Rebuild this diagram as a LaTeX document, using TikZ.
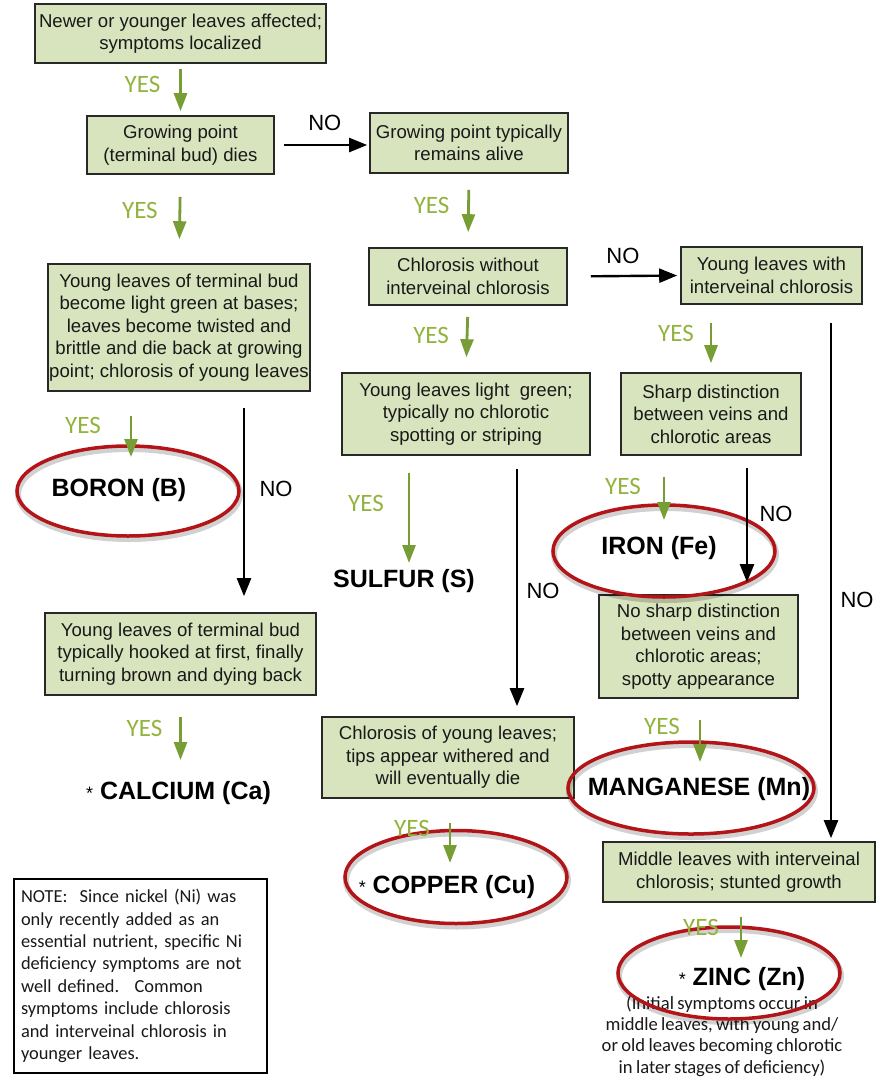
\documentclass[tikz,border=0pt]{standalone}
\usepackage{fontspec}
\setmainfont{Liberation Sans}
\newfontfamily\hum[WordSpace=0.8]{Carlito}
\usetikzlibrary{arrows.meta,shapes.geometric}
\definecolor{boxfill}{RGB}{215,228,189}
\definecolor{boxline}{RGB}{40,40,40}
\definecolor{arrgreen}{RGB}{118,158,52}
\definecolor{yesgreen}{RGB}{146,180,62}
\definecolor{ringred}{RGB}{178,20,24}
\definecolor{txt}{RGB}{25,25,25}
\begin{document}
\begin{tikzpicture}[x=1pt,y=-1pt,
  box/.style={draw=boxline, line width=1.6pt, fill=boxfill, inner sep=0pt, align=center, text=txt, font=\fontsize{18.6}{22.5}\selectfont},
  elem/.style={font=\fontsize{25}{28}\selectfont\bfseries, inner sep=0pt, text=black},
  ring/.style={ellipse, draw=ringred, line width=3.5pt, inner sep=0pt, preaction={draw=black, draw opacity=0.18, line width=6pt, transform canvas={xshift=1pt,yshift=-3pt}}},
  yesarrow/.style={draw=arrgreen, line width=2.8pt, -{Triangle[width=13pt,length=18pt]}},
  noarrow/.style={draw=black, line width=2.4pt, -{Triangle[width=14pt,length=18pt]}},
  yeslbl/.style={text=yesgreen, font=\hum\fontsize{25}{25}\selectfont, inner sep=0pt},
  nolbl/.style={text=black, font=\fontsize{22}{22}\selectfont, inner sep=0pt},
  notebox/.style={draw=black, line width=1.2pt, fill=white, text width=239pt, inner xsep=7pt, inner ysep=0pt, minimum height=194pt, align=left, text=txt, font=\hum\fontsize{18.4}{22.4}\selectfont},
  ]
\useasboundingbox (0,0) rectangle (883,1080);
\fill[white] (0,0) rectangle (883,1080);

% boxes
\node[box, minimum width=291pt, minimum height=59pt] (A) at (180.5,33.5) {Newer or younger leaves affected;\\symptoms localized};
\node[box, minimum width=187pt, minimum height=58pt] (B) at (180.5,145) {Growing point\\(terminal bud) dies};
\node[box, minimum width=198pt, minimum height=60pt] (C) at (469,143) {Growing point typically\\remains alive};
\node[box, minimum width=198pt, minimum height=57pt] (D) at (468,276.5) {Chlorosis without\\interveinal chlorosis};
\node[box, minimum width=181pt, minimum height=57pt] (E) at (771.5,275.5) {Young leaves with\\interveinal chlorosis};
\node[box, minimum width=262pt, minimum height=127pt] (F) at (179,327.5) {Young leaves of terminal bud\\become light green at bases;\\leaves become twisted and\\brittle and die back at growing\\point; chlorosis of young leaves};
\node[box, minimum width=271pt, minimum height=82pt] (G) at (180.5,654) {Young leaves of terminal bud\\typically hooked at first, finally\\turning brown and dying back};
\node[box, minimum width=248pt, minimum height=82pt] (H) at (466,414) {Young leaves light~ green;\\typically no chlorotic\\spotting or striping};
\node[box, minimum width=180pt, minimum height=82pt] (I) at (711,414) {Sharp distinction\\between veins and\\chlorotic areas};
\node[box, minimum width=199pt, minimum height=103pt] (K) at (698.5,646.5) {No sharp distinction\\between veins and\\chlorotic areas;\\spotty appearance};
\node[box, minimum width=252pt, minimum height=81pt] (J) at (448,757.5) {Chlorosis of young leaves;\\tips appear withered and\\will eventually die};
\node[box, minimum width=272pt, minimum height=60pt] (L) at (739,872) {Middle leaves with interveinal\\chlorosis; stunted growth};

\node[notebox] (N) at (140.5,976) {NOTE:~ Since nickel (Ni) was\\only recently added as an\\essential nutrient, specific Ni\\deficiency symptoms are not\\well defined.~ Common\\symptoms include chlorosis\\and interveinal chlorosis in\\younger leaves.};

% results
\node[elem] (Bo) at (119,490) {BORON (B)};
\node[elem] (S) at (404,581) {SULFUR (S)};
\node[elem] (Fe) at (659,548) {IRON (Fe)};
\node[elem] (Ca) at (178.5,793) {{\mdseries\fontsize{18}{18}\selectfont *}~CALCIUM (Ca)};
\node[elem] (Mn) at (699,789) {MANGANESE (Mn)};
\node[elem] (Cu) at (447,887) {{\mdseries\fontsize{18}{18}\selectfont *}~COPPER (Cu)};
\node[elem] (Zn) at (742,979) {{\mdseries\fontsize{18}{18}\selectfont *}~ZINC (Zn)};
\node[font=\hum\fontsize{18.6}{21.2}\selectfont, align=center, inner sep=0pt, text=txt] (ZnN) at (722,1036) {(Initial symptoms occur in\\middle leaves, with young and/\\or old leaves becoming chlorotic\\in later stages of deficiency)};

% rings
\node[ring, minimum width=222pt, minimum height=90pt] (BoR) at (128,491) {};
\node[ring, minimum width=222pt, minimum height=92pt] (FeR) at (664,551) {};
\node[ring, minimum width=246pt, minimum height=92pt] (MnR) at (691,788) {};
\node[ring, minimum width=222pt, minimum height=93pt] (CuR) at (456,877) {};
\node[ring, minimum width=222pt, minimum height=92pt] (ZnR) at (729,973) {};

% helper coordinates
\coordinate (e1) at ([xshift=59.5pt]E.south);
\coordinate (f1) at ([xshift=-48pt]F.south);
\coordinate (f2) at ([xshift=65pt]F.south);
\coordinate (h1) at ([xshift=-57pt]H.south);
\coordinate (h2) at ([xshift=51pt]H.south);
\coordinate (i1) at ([xshift=-47pt]I.south);
\coordinate (i2) at ([xshift=36pt]I.south);
\coordinate (k1) at ([xshift=1.5pt]K.south);
\coordinate (j1) at ([xshift=2pt]J.south);
\coordinate (l1) at ([xshift=2pt]L.south);

% connectors
\draw[yesarrow, shorten <=5pt, shorten >=4pt] (A.south) -- (B.north) node[yeslbl, pos=0.4, xshift=-38pt]{YES};
\draw[noarrow, shorten <=9pt, shorten >=2pt] (B.east) -- (C.west |- B.east) node[nolbl, pos=0.53, yshift=22pt]{NO};
\draw[yesarrow, shorten <=22pt, shorten >=24pt] (B.south) -- (F.north) node[yeslbl, pos=0.4, xshift=-40pt]{YES};
\draw[yesarrow, shorten <=16pt, shorten >=15pt] (C.south) -- (D.north) node[yeslbl, pos=0.43, xshift=-37pt]{YES};
\draw[noarrow, shorten <=23pt, shorten >=3pt] (D.east) -- (E.west) node[nolbl, pos=0.49, yshift=20pt]{NO};
\draw[yesarrow, shorten <=11pt, shorten >=15pt] (D.south) -- (H.north) node[yeslbl, pos=0.45, xshift=-36pt]{YES};
\draw[yesarrow, shorten <=18pt, shorten >=9pt] (E.south -| I.north) -- (I.north) node[yeslbl, pos=0.43, xshift=-35pt]{YES};
\draw[noarrow, shorten <=18pt, shorten >=3pt] (e1) -- (e1 |- L.north) node[nolbl, pos=0.55, xshift=26pt]{NO};
\draw[yesarrow, shorten <=24pt, shorten >=34pt] (f1) -- (f1 |- BoR.center) node[yeslbl, pos=0.34, xshift=-48pt]{YES};
\draw[noarrow, shorten <=16pt, shorten >=16pt] (f2) -- (f2 |- G.north) node[nolbl, pos=0.44, xshift=32pt]{NO};
\draw[yesarrow, shorten <=21pt, shorten >=33pt] (G.south) -- (G.south |- Ca.center) node[yeslbl, pos=0.34, xshift=-36pt]{YES};
\draw[yesarrow, shorten <=17pt, shorten >=18pt] (h1) -- (h1 |- S.center) node[yeslbl, pos=0.38, xshift=-43pt]{YES};
\draw[noarrow, shorten <=13pt, shorten >=10pt] (h2) -- (h2 |- J.north) node[nolbl, pos=0.52, xshift=26pt]{NO};
\draw[yesarrow, shorten <=21pt, shorten >=28pt] (i1) -- (i1 |- Fe.center) node[yeslbl, pos=0.33, xshift=-41pt]{YES};
\draw[noarrow, shorten <=12pt, shorten >=12pt] (i2) -- (i2 |- K.north) node[nolbl, pos=0.42, xshift=29pt]{NO};
\draw[yesarrow, shorten <=21pt, shorten >=27pt] (k1) -- (k1 |- Mn.center) node[yeslbl, pos=0.31, xshift=-38pt]{YES};
\draw[yesarrow, shorten <=24pt, shorten >=24pt] (j1) -- (j1 |- Cu.center) node[yeslbl, pos=0.34, xshift=-38pt]{YES};
\draw[yesarrow, shorten <=14pt, shorten >=21pt] (l1) -- (l1 |- Zn.center) node[yeslbl, pos=0.32, xshift=-40pt]{YES};
\end{tikzpicture}
\end{document}
